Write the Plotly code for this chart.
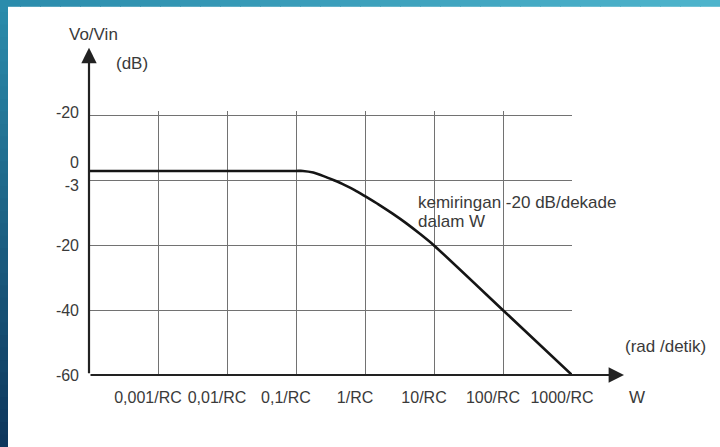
import plotly.graph_objects as go

# ---------------- data ----------------
FREQ = [0.0001, 0.001, 0.01, 0.1, 0.126, 0.178, 0.251, 0.355, 0.501, 0.708, 1.0,
        1.585, 2.512, 3.981, 6.31, 10, 100, 1000]                 # x (1/RC units)
GAIN = [3.0, 3.0, 3.0, 3.0, 3.0, 2.5, 1.4, 0.1, -1.3, -2.9, -4.8,
        -7.4, -10.2, -13.2, -16.5, -20.0, -40.0, -60.0]           # y (chart units)

X_TICK_VALUES = [0.001, 0.01, 0.1, 1, 10, 100, 1000]
X_TICK_LABELS = ["0,001/RC", "0,01/RC", "0,1/RC", "1/RC", "10/RC", "100/RC", "1000/RC"]

Y_GRID_VALUES = [20, 0, -20, -40, -60]
Y_LABEL_VALUES = [21, 5.5, -1.5, -20, -40, -60]
Y_LABEL_TEXTS = ["-20", "0", "-3", "-20", "-40", "-60"]

# ---------------- geometry helpers ----------------
W, H = 720, 447
L, R, B = 89, 572, 375          # plot area in pixels
Y_MIN, Y_MAX = -60, 21.5
SCALE = (375 - 116) / 80.0     # pixels per chart unit
T = B - (Y_MAX - Y_MIN) * SCALE


def px(x):
    return (x - L) / (R - L)


def py(y):
    return (B - y) / (B - T)


FONT = "Liberation Sans, Arial, sans-serif"
TXT = "#3a3a3a"
GRID = "#727272"

fig = go.Figure()
fig.add_trace(go.Scatter(
    x=FREQ, y=GAIN, mode="lines",
    line=dict(color="#151515", width=2.6, shape="spline", smoothing=0.6),
    hoverinfo="skip", showlegend=False,
))
fig.add_trace(go.Scatter(
    x=[FREQ[0]], y=[GAIN[0]], yaxis="y2", mode="markers",
    marker=dict(opacity=0), hoverinfo="skip", showlegend=False,
))

shapes = []


def lerp(c1, c2, t):
    return "rgb(%d,%d,%d)" % tuple(round(a + (b - a) * t) for a, b in zip(c1, c2))


# blue gradient frame (top bar and left bar)
n = 36
top_a, top_b = (43, 140, 172), (78, 180, 204)
for i in range(n):
    shapes.append(dict(type="rect", xref="paper", yref="paper", layer="above",
                       x0=px(W * i / n), x1=px(W * (i + 1) / n + 1),
                       y0=py(7), y1=py(0), line=dict(width=0),
                       fillcolor=lerp(top_a, top_b, i / (n - 1))))
left_a, left_b = (43, 140, 172), (14, 55, 92)
for i in range(n):
    shapes.append(dict(type="rect", xref="paper", yref="paper", layer="above",
                       x0=px(0), x1=px(8),
                       y0=py(H * (i + 1) / n + 1), y1=py(H * i / n),
                       line=dict(width=0),
                       fillcolor=lerp(left_a, left_b, i / (n - 1))))

annotations = [
    # axis arrows
    dict(xref="paper", yref="paper", x=px(624), y=0, ax=-(624 - L), ay=0,
         axref="pixel", ayref="pixel", showarrow=True, text="",
         arrowhead=2, arrowsize=1.4, arrowwidth=2.2, arrowcolor="#222"),
    dict(xref="paper", yref="paper", x=0, y=py(48), ax=0, ay=(B - 48),
         axref="pixel", ayref="pixel", showarrow=True, text="",
         arrowhead=2, arrowsize=1.4, arrowwidth=2.2, arrowcolor="#222"),
]


def label(text, x, y, anchor="left"):
    annotations.append(dict(xref="paper", yref="paper", x=px(x), y=py(y),
                            xanchor=anchor, yanchor="middle", showarrow=False,
                            text=text, font=dict(family=FONT, size=17, color=TXT)))


label("Vo/Vin", 67, 35)
label("(dB)", 114, 64)
label("kemiringan -20 dB/dekade", 416, 203)
label("dalam W", 416, 222)
label("(rad /detik)", 623, 347)
label("W", 627, 397)

fig.update_layout(
    width=W, height=H,
    margin=dict(l=L, r=W - R, t=T, b=H - B, pad=0),
    paper_bgcolor="white", plot_bgcolor="white",
    showlegend=False,
    shapes=shapes, annotations=annotations,
    xaxis=dict(type="log", range=[-4, 3], tickvals=X_TICK_VALUES, ticktext=X_TICK_LABELS,
               showgrid=True, gridcolor=GRID, gridwidth=1.4, zeroline=False,
               showline=False, ticks="", ticklabelshift=-10, ticklabelstandoff=11,
               tickfont=dict(family=FONT, size=16, color=TXT)),
    yaxis=dict(range=[Y_MIN, Y_MAX], tickvals=Y_GRID_VALUES, showticklabels=False,
               showgrid=True, gridcolor=GRID, gridwidth=1.4, zeroline=False,
               showline=False, ticks=""),
    yaxis2=dict(range=[Y_MIN, Y_MAX], overlaying="y", side="left", tickvals=Y_LABEL_VALUES,
                ticktext=Y_LABEL_TEXTS, showgrid=False, zeroline=False, showline=False,
                ticks="", ticklabelstandoff=9,
                tickfont=dict(family=FONT, size=16, color=TXT)),
)

fig.write_html("out.html", config={"displayModeBar": False},
               post_script="document.body.style.margin='0';")
